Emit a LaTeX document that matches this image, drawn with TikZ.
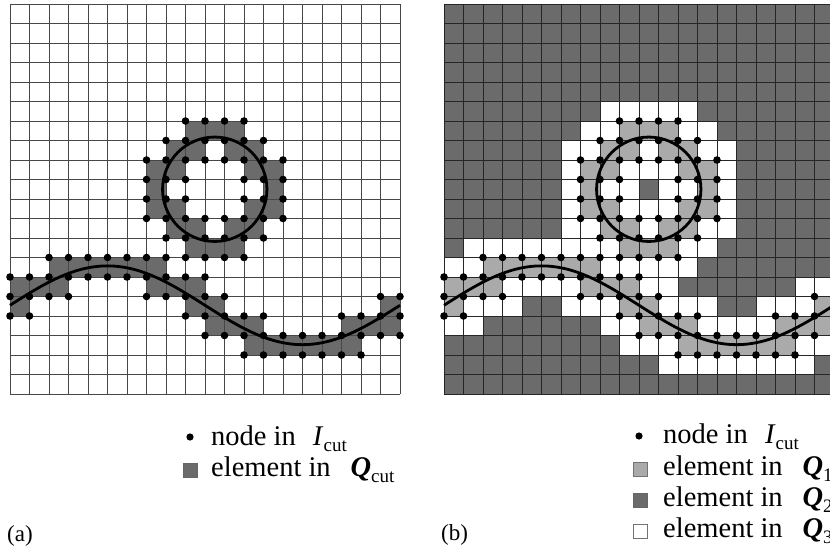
\documentclass[tikz,border=0pt]{standalone}
\usepackage{fontspec}
\setmainfont{Liberation Serif}
\definecolor{qdark}{HTML}{6B6B6B}
\definecolor{qlight}{HTML}{AAAAAA}
\newcommand\lsub[1]{\raisebox{-0.22em}[0pt][0pt]{\fontsize{19}{19}\selectfont #1}}
\tikzset{
  gridline/.style={draw=black!72, line width=0.9pt},
  curveline/.style={draw=black, line width=2.8pt},
  dotmark/.style={fill=black},
  legtext/.style={anchor=base west, inner sep=0pt, font=\fontsize{28.5}{30}\selectfont},
  captext/.style={anchor=base west, inner sep=0pt, font=\fontsize{23}{25}\selectfont},
  legbox/.style={line width=0.8pt}
}
\def\cutlist{10/6,10/12,7/9,13/9,9/6,11/6,9/12,11/12,7/8,7/10,13/8,13/10,9/7,11/7,9/11,11/11,8/8,12/8,8/10,12/10,8/7,12/7,8/11,12/11,0/14,0/15,1/14,2/13,2/14,3/13,4/13,5/13,6/13,7/13,7/14,8/14,9/14,9/15,10/15,10/16,11/16,12/16,12/17,13/17,14/17,15/17,16/17,17/16,17/17,18/16,19/15,19/16}
\begin{document}
\begin{tikzpicture}[x=1pt,y=-1pt]
\useasboundingbox (0,0) rectangle (830,551);
\clip (0,0) rectangle (830,551);
\fill[white] (0,0) rectangle (830,551);
% mark cut cells and their nodes
\foreach \i/\j in \cutlist {
  \pgfmathtruncatemacro\ii{\i+1}\pgfmathtruncatemacro\jj{\j+1}
  \expandafter\gdef\csname qc-\i-\j\endcsname{}
  \expandafter\gdef\csname qn-\i-\j\endcsname{}
  \expandafter\gdef\csname qn-\ii-\j\endcsname{}
  \expandafter\gdef\csname qn-\i-\jj\endcsname{}
  \expandafter\gdef\csname qn-\ii-\jj\endcsname{}
}
% ---------- panel (a)
\foreach \i/\j in \cutlist {
  \fill[qdark] (10+19.5*\i,4+19.5*\j) rectangle ++(19.5,19.5);
}
\foreach \k in {0,...,20} {
  \draw[gridline] (10+19.5*\k,4) -- (10+19.5*\k,394);
  \draw[gridline] (10,4+19.5*\k) -- (400,4+19.5*\k);
}
\draw[curveline] (214.75,189.25) circle[radius=52.2];
\draw[curveline] plot[domain=0:20,samples=121,smooth] ({10+19.5*\x},{4+19.5*(15.45-2.02*sin(18*\x))});
% ---------- panel (b)
\foreach \i in {0,...,19}{\foreach \j in {0,...,19}{
  \pgfmathtruncatemacro\ii{\i+1}\pgfmathtruncatemacro\jj{\j+1}
  \def\cls{qdark}
  \ifcsname qn-\i-\j\endcsname\def\cls{white}\fi
  \ifcsname qn-\ii-\j\endcsname\def\cls{white}\fi
  \ifcsname qn-\i-\jj\endcsname\def\cls{white}\fi
  \ifcsname qn-\ii-\jj\endcsname\def\cls{white}\fi
  \ifcsname qc-\i-\j\endcsname\def\cls{qlight}\fi
  \fill[\cls] (444+19.5*\i,4+19.5*\j) rectangle ++(19.5,19.5);
}}
\foreach \k in {0,...,20} {
  \draw[gridline, draw=black!85] (444+19.5*\k,4) -- (444+19.5*\k,394);
  \draw[gridline, draw=black!85] (444,4+19.5*\k) -- (834,4+19.5*\k);
}
\draw[curveline] (648.75,189.25) circle[radius=52.2];
\draw[curveline] plot[domain=0:20,samples=121,smooth] ({444+19.5*\x},{4+19.5*(15.45-2.02*sin(18*\x))});
% dots on both panels
\foreach \i in {0,...,20}{\foreach \j in {0,...,20}{
  \ifcsname qn-\i-\j\endcsname
    \fill[dotmark] (10+19.5*\i,4+19.5*\j) circle[radius=3.8];
    \fill[dotmark] (444+19.5*\i,4+19.5*\j) circle[radius=3.8];
  \fi
}}
% ---------- legend (a)
\fill[dotmark] (190,437) circle[radius=3.6];
\node[legtext] (la1) at (211,445) {node in\hspace{0.6em}\textit{I}\lsub{cut}};
\filldraw[qdark, draw=black!60, legbox] (183,463) rectangle (197,477);
\node[legtext] (la2) at (211,476) {element in\hspace{0.7em}\textbf{\textit{Q}}\lsub{cut}};
\node[captext] (capa) at (7,541) {(a)};
% ---------- legend (b)
\fill[dotmark] (639,436) circle[radius=3.6];
\node[legtext] (lb1) at (663,443) {node in\hspace{0.6em}\textit{I}\lsub{cut}};
\filldraw[qlight, draw=black!55, legbox] (633,462) rectangle (647,476);
\node[legtext] (lb2) at (663,475) {element in\hspace{0.7em}\textbf{\textit{Q}}\lsub{1}};
\filldraw[qdark, draw=black!60, legbox] (633,493) rectangle (647,507);
\node[legtext] (lb3) at (663,506) {element in\hspace{0.7em}\textbf{\textit{Q}}\lsub{2}};
\filldraw[white, draw=black!55, legbox] (633,524) rectangle (647,538);
\node[legtext] (lb4) at (663,537) {element in\hspace{0.7em}\textbf{\textit{Q}}\lsub{3}};
\node[captext] (capb) at (441,540) {(b)};
\end{tikzpicture}
\end{document}
